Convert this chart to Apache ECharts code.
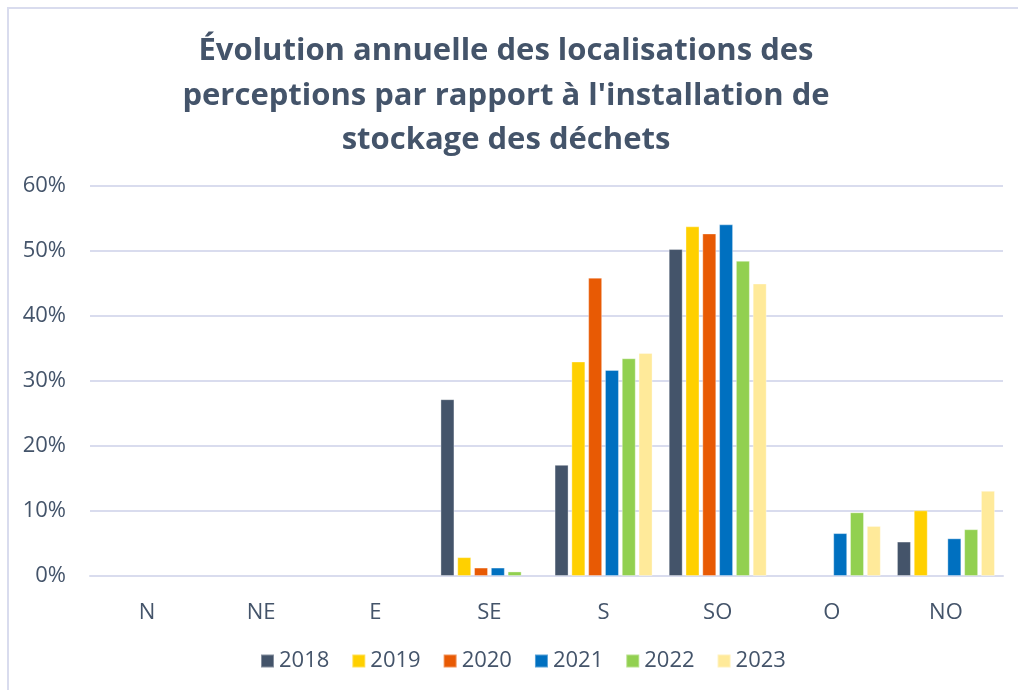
<!DOCTYPE html>
<html>
<head>
<meta charset="utf-8">
<script src="https://cdn.jsdelivr.net/npm/echarts@6/dist/echarts.min.js"></script>
<style>
  html, body { margin: 0; padding: 0; background: #fff; }
  #chart { width: 1018px; height: 690px; }
</style>
</head>
<body>
<div id="chart"></div>
<script>
// données (en %)
var directions = ['N', 'NE', 'E', 'SE', 'S', 'SO', 'O', 'NO'];
var years = ['2018', '2019', '2020', '2021', '2022', '2023'];
var colors = ['#44546A', '#FFD000', '#E85A04', '#0070C0', '#92D050', '#FFEA9A'];

var v2018 = [null, null, null, 27.2, 17.1, 50.3, null, 5.3];
var v2019 = [null, null, null, 2.9, 33.0, 53.8, null, 10.1];
var v2020 = [null, null, null, 1.3, 45.9, 52.7, null, null];
var v2021 = [null, null, null, 1.3, 31.7, 54.1, 6.6, 5.8];
var v2022 = [null, null, null, 0.7, 33.5, 48.5, 9.8, 7.2];
var v2023 = [null, null, null, null, 34.3, 45.0, 7.7, 13.1];
var values = [v2018, v2019, v2020, v2021, v2022, v2023];

var textColor = '#44546A';
var lineColor = '#D9DCEE';
var font = 'Open Sans';

var chart = echarts.init(document.getElementById('chart'));

var series = [];
for (var i = 0; i < years.length; i++) {
    series.push({
        name: years[i],
        type: 'bar',
        data: values[i],
        barWidth: 14,
        barGap: '20%',
        itemStyle: {
            color: colors[i],
            borderColor: 'rgba(255,255,255,0.35)',
            borderWidth: 1
        },
        animation: false
    });
}

chart.setOption({
    backgroundColor: '#ffffff',
    graphic: [{
        type: 'rect',
        shape: { x: 8, y: 8, width: 1100, height: 800 },
        style: { fill: 'none', stroke: lineColor, lineWidth: 2 },
        silent: true
    }],
    title: {
        text: 'Évolution annuelle des localisations des\nperceptions par rapport à l\'installation de\nstockage des déchets',
        left: 501,
        top: 24,
        textAlign: 'center',
        textStyle: {
            fontFamily: font,
            fontSize: 31,
            fontWeight: 'bold',
            color: textColor,
            lineHeight: 44.5
        }
    },
    legend: {
        data: years,
        top: 645,
        left: 255,
        itemWidth: 13,
        itemHeight: 13,
        itemGap: 22,
        icon: 'rect',
        textStyle: { fontFamily: font, fontSize: 22, color: textColor }
    },
    grid: {
        left: 90,
        right: 15,
        top: 186,
        bottom: 114,
        containLabel: false
    },
    xAxis: {
        type: 'category',
        data: directions,
        axisLine: { show: true, lineStyle: { color: lineColor, width: 2 } },
        axisTick: { show: false },
        axisLabel: { margin: 26, fontFamily: font, fontSize: 22, color: textColor }
    },
    yAxis: {
        type: 'value',
        min: 0,
        max: 60,
        interval: 10,
        axisLine: { show: false },
        axisTick: { show: false },
        splitLine: { lineStyle: { color: lineColor, width: 2 } },
        axisLabel: {
            margin: 24,
            fontFamily: font,
            fontSize: 22,
            color: textColor,
            formatter: '{value}%'
        }
    },
    series: series
});
</script>
</body>
</html>
